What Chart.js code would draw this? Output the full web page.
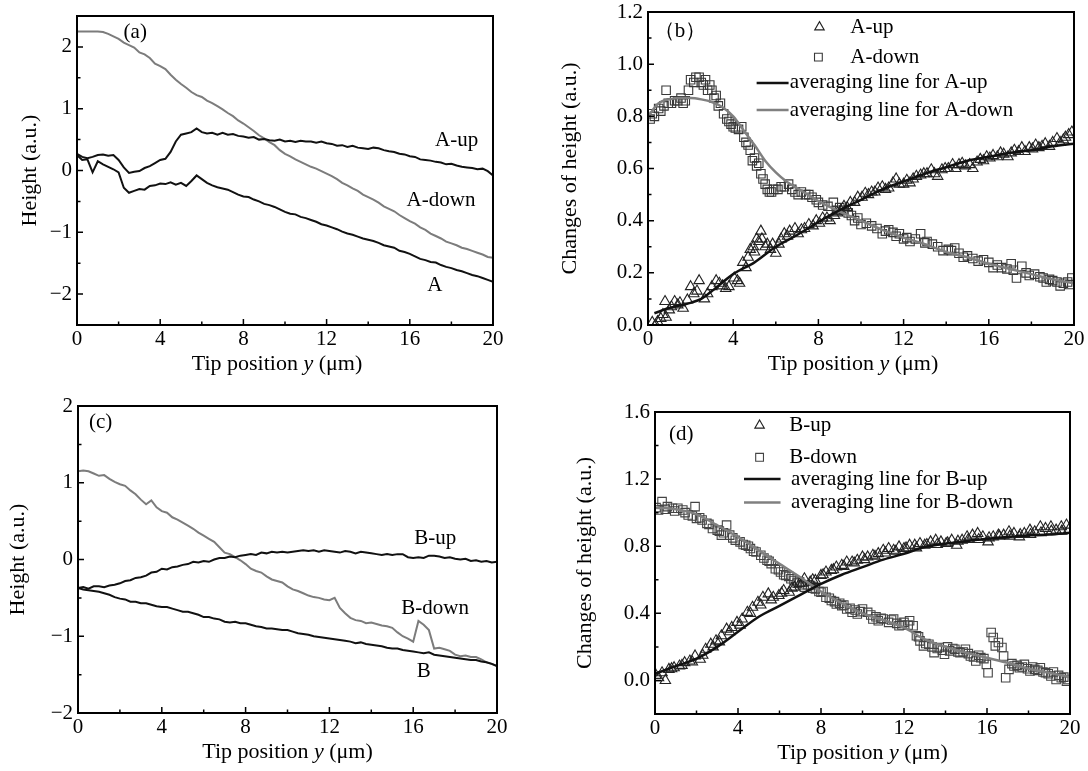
<!DOCTYPE html>
<html>
<head>
<meta charset="utf-8">
<script src="https://cdn.jsdelivr.net/npm/chart.js@4.4.1/dist/chart.umd.min.js"></script>
<style>
html, body { margin: 0; padding: 0; background: #fff; }
#wrap { position: relative; width: 1088px; height: 771px; overflow: hidden; }
#wrap canvas { position: absolute; left: 0; top: 0; }
</style>
</head>
<body>
<div id="wrap">
  <canvas id="chart-a" width="1088" height="771"></canvas>
  <canvas id="chart-b" width="1088" height="771"></canvas>
  <canvas id="chart-c" width="1088" height="771"></canvas>
  <canvas id="chart-d" width="1088" height="771"></canvas>
</div>
<script>
// tip position grid (um) for the traces in (a) and (c)
var xGrid = [0,0.25,0.5,0.75,1,1.25,1.5,1.75,2,2.25,2.5,2.75,3,3.25,3.5,3.75,4,4.25,4.5,4.75,
  5,5.25,5.5,5.75,6,6.25,6.5,6.75,7,7.25,7.5,7.75,8,8.25,8.5,8.75,9,9.25,9.5,9.75,
  10,10.25,10.5,10.75,11,11.25,11.5,11.75,12,12.25,12.5,12.75,13,13.25,13.5,13.75,14,14.25,14.5,14.75,
  15,15.25,15.5,15.75,16,16.25,16.5,16.75,17,17.25,17.5,17.75,18,18.25,18.5,18.75,19,19.25,19.5,19.75,20];

// (a) height traces
var aDown = [2.25,2.25,2.25,2.25,2.25,2.24,2.21,2.17,2.13,2.07,
  2.03,1.99,1.91,1.88,1.82,1.73,1.69,1.64,1.55,1.47,
  1.40,1.34,1.27,1.22,1.19,1.13,1.09,1.04,0.99,0.93,
  0.88,0.81,0.76,0.70,0.64,0.57,0.52,0.46,0.41,0.33,
  0.27,0.23,0.18,0.14,0.10,0.06,0.03,-0.01,-0.05,-0.09,
  -0.14,-0.20,-0.24,-0.29,-0.33,-0.39,-0.43,-0.47,-0.52,-0.58,
  -0.62,-0.66,-0.72,-0.77,-0.82,-0.86,-0.92,-0.96,-1.02,-1.06,
  -1.10,-1.15,-1.18,-1.21,-1.25,-1.27,-1.30,-1.33,-1.36,-1.40,
  -1.41];
var aUp = [0.27,0.22,0.20,0.22,0.25,0.26,0.24,0.25,0.17,0.05,
  -0.04,-0.02,-0.01,0.04,0.07,0.12,0.17,0.19,0.30,0.47,
  0.58,0.60,0.62,0.68,0.62,0.60,0.61,0.58,0.61,0.58,
  0.59,0.56,0.55,0.53,0.54,0.50,0.51,0.49,0.48,0.50,
  0.47,0.48,0.46,0.48,0.47,0.47,0.45,0.47,0.44,0.43,
  0.40,0.41,0.38,0.40,0.37,0.36,0.35,0.37,0.36,0.33,
  0.31,0.30,0.27,0.26,0.23,0.22,0.18,0.17,0.16,0.14,
  0.13,0.10,0.11,0.08,0.06,0.05,0.04,0.02,0.03,-0.01,
  -0.08];
var aBase = [0.25,0.17,0.18,-0.03,0.15,0.10,0.06,0.02,-0.03,-0.28,
  -0.36,-0.33,-0.30,-0.31,-0.25,-0.24,-0.21,-0.22,-0.19,-0.23,
  -0.20,-0.25,-0.17,-0.08,-0.14,-0.20,-0.24,-0.27,-0.29,-0.31,
  -0.35,-0.39,-0.42,-0.43,-0.47,-0.50,-0.54,-0.56,-0.59,-0.63,
  -0.67,-0.70,-0.71,-0.75,-0.77,-0.80,-0.83,-0.87,-0.89,-0.92,
  -0.95,-0.99,-1.02,-1.04,-1.07,-1.10,-1.12,-1.14,-1.17,-1.21,
  -1.23,-1.25,-1.30,-1.32,-1.35,-1.39,-1.43,-1.45,-1.48,-1.49,
  -1.53,-1.56,-1.58,-1.61,-1.63,-1.66,-1.69,-1.71,-1.74,-1.77,
  -1.80];

// (c) height traces
var bDown = [1.15,1.16,1.15,1.12,1.09,1.10,1.05,1.01,0.98,0.96,
  0.90,0.85,0.78,0.72,0.77,0.68,0.63,0.61,0.55,0.52,
  0.48,0.44,0.40,0.35,0.31,0.27,0.23,0.16,0.09,0.07,
  0.03,-0.01,-0.06,-0.12,-0.15,-0.17,-0.22,-0.26,-0.28,-0.30,
  -0.35,-0.39,-0.41,-0.44,-0.47,-0.49,-0.50,-0.52,-0.53,-0.50,
  -0.63,-0.70,-0.76,-0.79,-0.80,-0.83,-0.82,-0.84,-0.86,-0.87,
  -0.89,-0.95,-1.00,-1.03,-1.07,-0.80,-0.85,-0.92,-1.16,-1.15,
  -1.17,-1.19,-1.24,-1.26,-1.25,-1.27,-1.27,-1.30,-1.34,-1.36,
  -1.39];
var bUp = [-0.37,-0.36,-0.38,-0.35,-0.35,-0.36,-0.34,-0.33,-0.31,-0.28,
  -0.27,-0.24,-0.23,-0.21,-0.17,-0.16,-0.12,-0.13,-0.10,-0.09,
  -0.07,-0.06,-0.03,-0.04,-0.02,-0.03,0.00,0.02,0.02,0.04,
  0.03,0.05,0.06,0.07,0.06,0.09,0.08,0.10,0.09,0.10,
  0.09,0.10,0.11,0.12,0.11,0.12,0.10,0.12,0.11,0.10,
  0.09,0.11,0.10,0.08,0.10,0.09,0.08,0.07,0.06,0.07,
  0.06,0.07,0.07,0.03,0.02,0.03,0.02,0.05,0.05,0.04,
  0.02,0.03,0.01,0.00,0.01,-0.02,-0.01,-0.03,-0.02,-0.04,
  -0.03];
var bBase = [-0.37,-0.39,-0.40,-0.41,-0.42,-0.44,-0.46,-0.49,-0.51,-0.52,
  -0.55,-0.55,-0.57,-0.57,-0.59,-0.61,-0.62,-0.62,-0.64,-0.66,
  -0.68,-0.68,-0.70,-0.72,-0.75,-0.75,-0.77,-0.78,-0.81,-0.82,
  -0.81,-0.83,-0.83,-0.85,-0.87,-0.88,-0.90,-0.90,-0.91,-0.92,
  -0.92,-0.94,-0.96,-0.97,-0.98,-1.00,-1.01,-1.02,-1.03,-1.04,
  -1.05,-1.06,-1.07,-1.09,-1.08,-1.10,-1.11,-1.12,-1.13,-1.15,
  -1.16,-1.16,-1.18,-1.19,-1.20,-1.21,-1.22,-1.21,-1.24,-1.25,
  -1.26,-1.27,-1.28,-1.29,-1.30,-1.31,-1.31,-1.33,-1.34,-1.36,
  -1.39];

// (b) changes of height, A
var aUpPtX = [0.2,0.45,0.6,0.8,0.85,1.0,1.25,1.4,1.65,1.85,2.0,2.15,2.4,2.65,3.0,3.2,3.5,3.8,4.05,4.3,
  4.45,4.6,4.8,4.95,5.1,5.3,5.35,5.6,5.85,6.0,6.25,6.4,6.65,6.9,7.2,7.55,7.9,8.2,8.55,8.9,
  9.2,9.5,9.85,10.2,10.5,10.8,11.15,11.5,11.65,12.0,12.3,12.6,12.95,13.3,13.6,13.95,14.3,14.6,14.9,15.25,
  15.6,15.9,16.2,16.55,16.9,17.2,17.55,17.9,18.2,18.5,18.85,19.2,19.5,19.75,19.9,
  0.35,0.7,1.1,1.5,2.3,2.8,3.35,3.65,4.2,4.7,5.0,5.2,5.5,5.75,6.15,6.55,7.05,7.35,7.75,8.05,
  8.4,8.75,9.05,9.35,9.7,10.05,10.35,10.65,11.0,11.3,11.8,12.15,12.45,12.8,13.1,13.45,13.8,14.1,14.45,14.75,
  15.1,15.45,15.75,16.05,16.4,16.7,17.05,17.4,17.7,18.05,18.35,18.65,19.0,19.35,19.6];
var aUpPtY = [0.01,0.013,0.025,0.09,0.03,0.058,0.09,0.077,0.064,0.096,0.147,0.12,0.17,0.10,0.147,0.17,0.15,0.147,0.18,0.16,
  0.24,0.22,0.29,0.30,0.33,0.36,0.33,0.31,0.31,0.275,0.33,0.35,0.36,0.37,0.365,0.385,0.40,0.41,0.40,0.43,
  0.455,0.47,0.49,0.505,0.51,0.525,0.52,0.545,0.56,0.54,0.545,0.57,0.58,0.595,0.57,0.60,0.615,0.615,0.61,0.60,
  0.635,0.645,0.65,0.66,0.645,0.67,0.68,0.68,0.69,0.685,0.685,0.715,0.71,0.73,0.74,
  0.0,0.04,0.07,0.085,0.13,0.12,0.16,0.14,0.17,0.26,0.28,0.32,0.30,0.29,0.31,0.34,0.35,0.37,0.38,0.39,
  0.41,0.42,0.44,0.45,0.47,0.49,0.50,0.51,0.53,0.525,0.54,0.555,0.56,0.575,0.58,0.58,0.595,0.60,0.60,0.62,
  0.615,0.625,0.63,0.64,0.645,0.655,0.66,0.665,0.665,0.675,0.68,0.695,0.70,0.70,0.72];
var aDownPtX = [0.1,0.2,0.5,0.75,0.85,1.1,1.4,1.65,1.9,2.0,2.25,2.4,2.5,2.7,2.9,3.0,3.1,3.4,3.55,3.7,
  3.9,4.1,4.4,4.5,4.6,4.8,4.9,5.2,5.3,5.4,5.6,5.8,5.9,6.25,6.6,6.9,7.2,7.55,7.9,8.2,
  8.7,9.0,9.4,9.7,10.0,10.5,11.0,11.3,11.65,12.0,12.3,12.8,13.1,13.6,14.1,14.4,14.8,15.25,15.75,16.2,
  16.6,17.05,17.3,17.55,17.9,18.4,18.7,19.0,19.35,19.7,19.9,
  7.4,7.7,8.0,8.45,8.85,9.2,9.55,9.85,10.25,10.75,11.15,11.5,11.8,12.15,12.55,13.0,13.35,13.85,14.25,14.6,
  15.0,15.5,16.0,16.4,16.85,17.15,17.75,18.15,18.55,18.85,19.2,19.5,19.8,
  0.3,0.6,0.95,1.25,1.55,1.75,2.15,2.6,2.8,3.2,3.3,3.8,4.0,4.25,4.7,5.0,5.1,5.5,5.7,6.1,6.4,6.75,7.05];
var aDownPtY = [0.79,0.81,0.83,0.84,0.90,0.85,0.86,0.85,0.90,0.94,0.95,0.95,0.93,0.94,0.92,0.90,0.87,0.85,0.81,0.79,
  0.77,0.755,0.76,0.72,0.70,0.67,0.63,0.62,0.58,0.56,0.52,0.51,0.52,0.53,0.54,0.51,0.51,0.50,0.48,0.46,
  0.47,0.45,0.43,0.40,0.385,0.38,0.35,0.365,0.34,0.33,0.32,0.35,0.32,0.30,0.29,0.295,0.26,0.255,0.25,0.22,
  0.22,0.235,0.18,0.225,0.19,0.185,0.165,0.17,0.15,0.165,0.18,
  0.50,0.49,0.47,0.455,0.44,0.44,0.42,0.41,0.39,0.37,0.36,0.355,0.35,0.335,0.33,0.315,0.31,0.285,0.285,0.275,
  0.265,0.245,0.24,0.23,0.215,0.21,0.2,0.195,0.18,0.175,0.165,0.16,0.155,
  0.80,0.82,0.85,0.86,0.87,0.86,0.93,0.92,0.90,0.88,0.84,0.78,0.76,0.75,0.69,0.64,0.61,0.54,0.51,0.52,0.53,0.52,0.50];
var aUpAvgX = [0.3,1,2,2.5,3,4,5,6,7,8,9,10,11,12,13,14,15,16,17,18,19,20];
var aUpAvgY = [0.045,0.065,0.085,0.10,0.13,0.195,0.24,0.30,0.345,0.395,0.44,0.48,0.52,0.55,0.58,0.605,0.63,0.645,0.66,0.67,0.685,0.695];
var aDownAvgX = [0,0.5,1,1.5,2,2.5,3,3.5,4,4.5,5,5.5,6,6.5,7,7.5,8,9,10,11,12,13,14,15,16,17,18,19,20];
var aDownAvgY = [0.80,0.85,0.865,0.87,0.87,0.865,0.855,0.835,0.80,0.745,0.69,0.63,0.585,0.55,0.525,0.50,0.475,0.435,0.40,0.365,0.335,0.31,0.28,0.26,0.235,0.215,0.195,0.175,0.16];

// (d) changes of height, B
var bUpPtX = [0.17,0.34,0.5,0.67,0.92,1.18,1.43,1.68,1.93,2.18,2.44,2.69,2.94,3.2,3.45,3.7,3.95,4.2,4.45,4.7,
  4.96,5.2,5.46,5.7,5.97,6.2,6.47,6.72,6.97,7.2,7.48,7.73,8.0,8.24,8.5,8.74,9.0,9.24,9.5,9.75,
  10.0,10.25,10.5,10.76,11.0,11.26,11.5,11.76,12.0,12.27,12.52,12.77,13.0,13.28,13.53,13.78,14.03,14.3,14.54,14.8,
  15.04,15.3,15.55,15.8,16.05,16.3,16.55,16.8,17.06,17.3,17.56,17.8,18.07,18.3,18.57,18.82,19.08,19.33,19.58,19.83,
  0.05,0.8,1.3,1.8,2.3,2.8,3.1,3.6,4.1,4.6,5.1,5.6,6.1,6.6,7.1,7.6,8.1,8.6,9.1,9.6,
  10.1,10.6,11.1,11.6,12.1,12.6,13.1,13.6,14.1,14.6,15.1,15.6,16.1,16.6,17.1,17.6,18.1,18.6,19.1,19.6,19.95];
var bUpPtY = [0.016,0.046,0.0,0.066,0.076,0.086,0.106,0.116,0.146,0.126,0.186,0.216,0.236,0.266,0.306,0.316,0.346,0.366,0.406,0.436,
  0.466,0.496,0.516,0.496,0.506,0.536,0.526,0.556,0.576,0.606,0.586,0.596,0.626,0.646,0.656,0.676,0.686,0.706,0.706,0.716,
  0.736,0.736,0.746,0.756,0.776,0.786,0.776,0.796,0.786,0.806,0.806,0.816,0.806,0.826,0.836,0.826,0.816,0.836,0.806,0.836,
  0.856,0.866,0.876,0.856,0.826,0.856,0.866,0.866,0.886,0.876,0.856,0.876,0.896,0.886,0.916,0.906,0.916,0.896,0.916,0.926,
  0.03,0.07,0.09,0.11,0.15,0.2,0.23,0.29,0.33,0.40,0.45,0.48,0.52,0.55,0.58,0.6,0.63,0.66,0.68,0.70,
  0.72,0.74,0.76,0.77,0.79,0.79,0.81,0.81,0.82,0.83,0.84,0.84,0.85,0.86,0.86,0.87,0.87,0.88,0.89,0.89,0.9];
var bDownPtX = [0.17,0.34,0.6,0.84,1.1,1.34,1.6,1.93,2.0,2.27,2.5,2.77,3.0,3.2,3.45,3.6,3.87,4.1,4.37,4.6,
  4.87,5.1,5.4,5.6,5.8,6.05,6.3,6.55,6.7,6.97,7.2,7.5,7.73,8.0,8.24,8.5,8.74,9.0,9.24,9.5,
  9.75,10.0,10.25,10.5,10.76,11.0,11.26,11.5,11.76,12.0,12.27,12.44,12.6,12.77,12.94,13.2,13.45,13.7,13.95,14.2,
  14.45,14.7,14.96,15.2,15.46,15.7,15.97,16.05,16.2,16.3,16.4,16.55,16.72,16.8,16.9,17.06,17.3,17.56,17.8,18.07,
  18.3,18.57,18.82,19.08,19.33,19.58,19.83,19.9,
  0.05,0.5,0.95,1.45,1.8,2.15,2.6,3.1,3.3,3.75,4.25,4.5,4.75,5.25,5.5,5.95,6.2,6.45,6.85,7.1,
  7.35,7.6,7.9,8.1,8.4,8.65,8.9,9.1,9.4,9.65,9.9,10.4,10.65,10.9,11.4,11.65,11.9,12.2,12.7,13.05,
  13.35,13.6,13.85,14.1,14.35,14.6,14.85,15.1,15.35,15.6,15.85,17.2,17.45,17.7,17.95,18.2,18.45,18.7,18.95,19.2,19.45,19.7];
var bDownPtY = [1.016,1.066,1.036,1.026,1.026,1.016,0.986,1.036,0.966,0.956,0.936,0.906,0.896,0.866,0.926,0.866,0.836,0.826,0.806,0.786,
  0.766,0.746,0.716,0.696,0.666,0.646,0.626,0.606,0.596,0.586,0.556,0.566,0.546,0.526,0.496,0.476,0.456,0.446,0.426,0.406,
  0.396,0.426,0.406,0.366,0.356,0.366,0.346,0.366,0.326,0.346,0.356,0.326,0.266,0.236,0.206,0.216,0.166,0.196,0.156,0.176,
  0.186,0.166,0.186,0.146,0.116,0.136,0.096,0.046,0.286,0.256,0.206,0.226,0.196,0.146,0.016,0.066,0.086,0.076,0.096,0.056,
  0.066,0.076,0.046,0.026,0.006,0.016,-0.004,0.006,
  1.03,1.02,1.01,1.0,0.98,0.97,0.93,0.89,0.88,0.85,0.81,0.80,0.77,0.73,0.71,0.66,0.63,0.62,0.58,0.57,
  0.57,0.55,0.53,0.53,0.49,0.47,0.46,0.45,0.43,0.42,0.41,0.39,0.38,0.37,0.36,0.34,0.33,0.33,0.26,0.22,
  0.20,0.19,0.18,0.20,0.19,0.17,0.17,0.16,0.14,0.15,0.13,0.10,0.09,0.08,0.07,0.08,0.06,0.05,0.04,0.05,0.03,0.02];
var bAvgX = [0,1,2,3,4,5,6,7,8,9,10,11,12,13,14,15,16,17,18,19,20];
var bUpAvgY = [0.04,0.085,0.13,0.20,0.29,0.38,0.445,0.51,0.575,0.63,0.675,0.72,0.755,0.795,0.815,0.83,0.845,0.855,0.865,0.87,0.88];
var bDownAvgY = [1.03,1.02,0.99,0.925,0.855,0.775,0.695,0.615,0.53,0.46,0.40,0.36,0.315,0.245,0.20,0.165,0.135,0.105,0.07,0.045,0.02];

// axis ticks
var xMajor = [0,4,8,12,16,20];
var xMinor = [2,6,10,14,18];
var hMajor = [-2,-1,0,1,2];
var hMinor = [-1.5,-0.5,0.5,1.5];
var bMajor = [0,0.2,0.4,0.6,0.8,1.0,1.2];
var bMinor = [0.1,0.3,0.5,0.7,0.9,1.1];
var dMajor = [0,0.4,0.8,1.2,1.6];
var dMinor = [0.2,0.6,1.0,1.4];

var SERIF = '"Liberation Serif", "Times New Roman", serif';
var YW = 60, XH = 45, W = 1088, H = 771;

function pts(xs, ys) {
    return xs.map(function (x, i) { return { x: x, y: ys[i] }; });
}

function trace(label, ys, color) {
    return { label: label, data: pts(xGrid, ys), showLine: true, borderColor: color, borderWidth: 2,
        pointRadius: 0, tension: 0 };
}

function avgLine(label, xs, ys, color) {
    return { label: label, data: pts(xs, ys), showLine: true, borderColor: color, borderWidth: 2.5,
        pointRadius: 0, cubicInterpolationMode: 'monotone' };
}

function marks(label, xs, ys, style, radius, color) {
    return { label: label, data: pts(xs, ys), showLine: false, pointStyle: style, pointRadius: radius,
        pointBorderWidth: 1.1, pointBorderColor: color, pointBackgroundColor: 'rgba(0,0,0,0)' };
}

function minusFmt(v) {
    return v < 0 ? '\u2212' + Math.abs(v) : String(v);
}

var figPlugin = {
    id: 'fig',
    afterDatasetsDraw: function (chart, args, o) {
        var ctx = chart.ctx, a = chart.chartArea, sx = chart.scales.x, sy = chart.scales.y;
        ctx.save();
        // inward ticks
        ctx.strokeStyle = '#000';
        ctx.lineWidth = 1.5;
        ctx.beginPath();
        o.xMajor.forEach(function (v) { var p = sx.getPixelForValue(v); ctx.moveTo(p, a.bottom); ctx.lineTo(p, a.bottom - 6); });
        o.xMinor.forEach(function (v) { var p = sx.getPixelForValue(v); ctx.moveTo(p, a.bottom); ctx.lineTo(p, a.bottom - 3.5); });
        o.yMajor.forEach(function (v) { var p = sy.getPixelForValue(v); ctx.moveTo(a.left, p); ctx.lineTo(a.left + 6, p); });
        o.yMinor.forEach(function (v) { var p = sy.getPixelForValue(v); ctx.moveTo(a.left, p); ctx.lineTo(a.left + 3.5, p); });
        ctx.stroke();
        // frame
        ctx.lineWidth = 2;
        ctx.strokeRect(a.left, a.top, a.right - a.left, a.bottom - a.top);

        ctx.fillStyle = '#000';
        ctx.textBaseline = 'middle';
        // in-plot labels
        ctx.font = '21px ' + SERIF;
        ctx.textAlign = 'center';
        o.notes.forEach(function (n) {
            ctx.fillText(n.text, sx.getPixelForValue(n.x), sy.getPixelForValue(n.y));
        });
        // legend
        if (o.legend) {
            ctx.font = '21px ' + SERIF;
            ctx.textAlign = 'left';
            o.legend.forEach(function (r) {
                var ds = chart.data.datasets[r.ds];
                var py = sy.getPixelForValue(r.y);
                if (r.from !== undefined) {
                    ctx.strokeStyle = ds.borderColor;
                    ctx.lineWidth = 2.5;
                    ctx.beginPath();
                    ctx.moveTo(sx.getPixelForValue(r.from), py);
                    ctx.lineTo(sx.getPixelForValue(r.to), py);
                    ctx.stroke();
                } else {
                    ctx.strokeStyle = ds.pointBorderColor;
                    ctx.fillStyle = 'rgba(0,0,0,0)';
                    ctx.lineWidth = 1.1;
                    Chart.helpers.drawPoint(ctx, { pointStyle: ds.pointStyle, radius: ds.pointRadius - 0.5,
                        borderWidth: 1.1, rotation: 0 }, sx.getPixelForValue(r.at), py);
                }
                ctx.fillStyle = '#000';
                ctx.fillText(ds.label, sx.getPixelForValue(r.text), py);
            });
        }
        // x title with italic y
        var parts = [['Tip position ', ''], ['y', 'italic '], [' (\u03bcm)', '']];
        var total = 0;
        parts.forEach(function (p) { ctx.font = p[1] + '22px ' + SERIF; p.push(ctx.measureText(p[0]).width); total += p[2]; });
        var cx = (a.left + a.right) / 2 + o.xTitleShift - total / 2, cy = a.bottom + 39;
        ctx.textAlign = 'left';
        parts.forEach(function (p) { ctx.font = p[1] + '22px ' + SERIF; ctx.fillText(p[0], cx, cy); cx += p[2]; });
        // y title
        ctx.translate(a.left - o.yTitleGap, (a.top + a.bottom) / 2);
        ctx.rotate(-Math.PI / 2);
        ctx.font = '22px ' + SERIF;
        ctx.textAlign = 'center';
        ctx.fillText(o.yTitle, 0, 0);
        ctx.restore();
    }
};

function panel(id, box, datasets, yMin, yMax, yMajor, yMinor, fmt, fig) {
    fig.xMajor = xMajor;
    fig.xMinor = xMinor;
    fig.yMajor = yMajor;
    fig.yMinor = yMinor;
    var tickFont = { family: SERIF, size: 21 };
    var noPad = function (s) { s.paddingLeft = 0; s.paddingRight = 0; s.paddingTop = 0; s.paddingBottom = 0; };
    return new Chart(document.getElementById(id), {
        type: 'scatter',
        data: { datasets: datasets },
        plugins: [figPlugin],
        options: {
            responsive: false,
            animation: false,
            devicePixelRatio: 1,
            events: [],
            layout: { padding: { left: box.left - YW, top: box.top, right: W - box.right, bottom: H - box.bottom - XH } },
            plugins: { legend: { display: false }, tooltip: { enabled: false }, fig: fig },
            scales: {
                x: {
                    type: 'linear', min: 0, max: 20,
                    afterBuildTicks: function (s) { s.ticks = xMajor.map(function (v) { return { value: v }; }); },
                    afterFit: function (s) { s.height = XH; noPad(s); },
                    grid: { display: false, drawTicks: false },
                    border: { display: false },
                    ticks: { padding: 2, color: '#000', font: tickFont, maxRotation: 0, autoSkip: false }
                },
                y: {
                    type: 'linear', min: yMin, max: yMax,
                    afterBuildTicks: function (s) { s.ticks = yMajor.map(function (v) { return { value: v }; }); },
                    afterFit: function (s) { s.width = YW; noPad(s); },
                    grid: { display: false, drawTicks: false },
                    border: { display: false },
                    ticks: { padding: 5, color: '#000', font: tickFont, autoSkip: false, callback: fmt }
                }
            }
        }
    });
}

var fixed1 = function (v) { return v.toFixed(1); };

panel('chart-a', { left: 77, top: 16, right: 493, bottom: 325 }, [
    trace('A-up', aUp, '#111'),
    trace('A', aBase, '#111'),
    trace('A-down', aDown, '#7c7c7c')
], -2.5, 2.5, hMajor, hMinor, minusFmt, {
    yTitle: 'Height (a.u.)', yTitleGap: 47, xTitleShift: -8,
    notes: [{ text: '(a)', x: 2.8, y: 2.24 }, { text: 'A-up', x: 18.25, y: 0.49 },
        { text: 'A-down', x: 17.5, y: -0.49 }, { text: 'A', x: 17.2, y: -1.86 }]
});

panel('chart-b', { left: 648, top: 12, right: 1074, bottom: 325 }, [
    avgLine('averaging line for A-up', aUpAvgX, aUpAvgY, '#111'),
    avgLine('averaging line for A-down', aDownAvgX, aDownAvgY, '#808080'),
    marks('A-up', aUpPtX, aUpPtY, 'triangle', 6, '#222'),
    marks('A-down', aDownPtX, aDownPtY, 'rect', 6, '#383838')
], 0, 1.2, bMajor, bMinor, fixed1, {
    yTitle: 'Changes of height (a.u.)', yTitleGap: 78, xTitleShift: -8,
    notes: [{ text: '\uff08b\uff09', x: 1.5, y: 1.127 }],
    legend: [{ ds: 2, at: 8.05, text: 9.5, y: 1.142 }, { ds: 3, at: 8.0, text: 9.5, y: 1.027 },
        { ds: 0, from: 5.1, to: 6.6, text: 6.66, y: 0.928 }, { ds: 1, from: 5.1, to: 6.6, text: 6.66, y: 0.824 }]
});

panel('chart-c', { left: 78, top: 406, right: 497, bottom: 713 }, [
    trace('B-up', bUp, '#111'),
    trace('B', bBase, '#111'),
    trace('B-down', bDown, '#7c7c7c')
], -2, 2, hMajor, hMinor, minusFmt, {
    yTitle: 'Height (a.u.)', yTitleGap: 60, xTitleShift: 0,
    notes: [{ text: '(c)', x: 1.08, y: 1.78 }, { text: 'B-up', x: 17.05, y: 0.27 },
        { text: 'B-down', x: 17.05, y: -0.64 }, { text: 'B', x: 16.5, y: -1.46 }]
});

panel('chart-d', { left: 655, top: 412, right: 1070, bottom: 714 }, [
    avgLine('averaging line for B-up', bAvgX, bUpAvgY, '#111'),
    avgLine('averaging line for B-down', bAvgX, bDownAvgY, '#808080'),
    marks('B-up', bUpPtX, bUpPtY, 'triangle', 6, '#222'),
    marks('B-down', bDownPtX, bDownPtY, 'rect', 6, '#444')
], -0.2, 1.6, dMajor, dMinor, fixed1, {
    yTitle: 'Changes of height (a.u.)', yTitleGap: 70, xTitleShift: 0,
    notes: [{ text: '(d)', x: 1.26, y: 1.465 }],
    legend: [{ ds: 2, at: 5.04, text: 6.47, y: 1.52 }, { ds: 3, at: 5.04, text: 6.47, y: 1.33 },
        { ds: 0, from: 4.29, to: 6.05, text: 6.55, y: 1.2 }, { ds: 1, from: 4.29, to: 6.05, text: 6.55, y: 1.06 }]
});
</script>
</body>
</html>
